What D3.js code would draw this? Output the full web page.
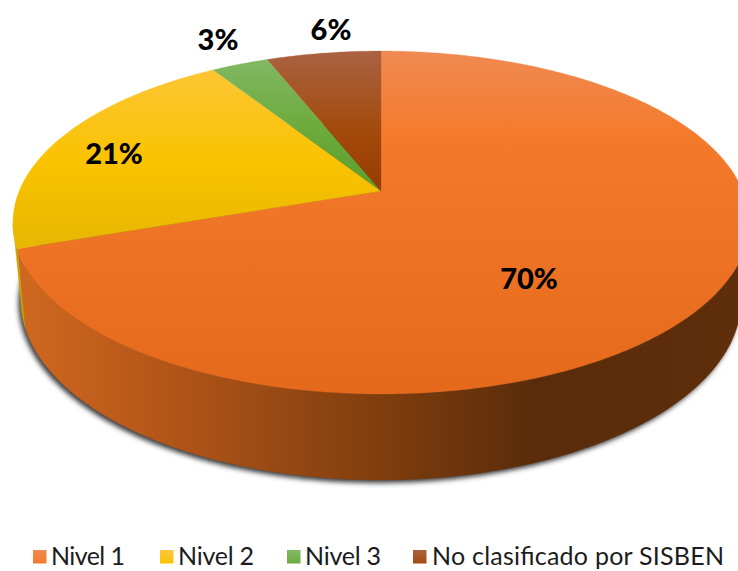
<!DOCTYPE html>
<html><head><meta charset="utf-8">
<script src="https://cdn.jsdelivr.net/npm/d3@7"></script>
<style>html,body{margin:0;padding:0;background:#fff;overflow:hidden}svg{display:block}</style>
</head><body><svg id="c" width="738" height="571"></svg>
<script>
const categories = ["Nivel 1","Nivel 2","Nivel 3","No clasificado por SISBEN"];
const values = [69.7,21.3,3,6];
const valueLabels = ["70%","21%","3%","6%"];
const topColors = [
  ["#f08a52","#f47a2b","#e5691a"],
  ["#fdc63f","#fac300","#e5b500"],
  ["#84b968","#6cab3c","#5c9e2c"],
  ["#aa6242","#a34b0c","#983c00"]
];
const wallStops = [[0,"#d0681f"],[0.17,"#b9591a"],[0.5,"#803e0e"],[0.72,"#5a2c0b"],[1,"#5f2e0b"]];
const labelCentres = [[529,277],[114,152],[218,38],[331,28]];
const legendBoxes = [[33,51,74],[160,178,76],[287,305,76],[413,432,292]];

const svg = d3.select("#c");
const apex = {x:381,y:191}, rimW = 361.8, rimH = 165.7, persp = -0.1837;
const topE = {cx:381,cy:222.5,a:368,b:171.5}, lowE = {cx:381,cy:300,a:360,b:180};
const pie = d3.pie().value(d=>d).sort(null);
const arcs = pie(values);

function rim(t){
  const X=Math.sin(t), Y=-Math.cos(t), d=1+persp*Y;
  return [apex.x+rimW*X/d, apex.y+rimH*Y/d];
}
function lower(p){
  const c=(p[0]-topE.cx)/topE.a, s=(p[1]-topE.cy)/topE.b;
  return [lowE.cx+lowE.a*c, lowE.cy+lowE.b*s];
}
const line = d3.line();
function samples(a0,a1){
  const n=Math.max(2,Math.ceil((a1-a0)*90));
  return d3.range(n+1).map(i=>a0+(a1-a0)*i/n);
}
const defs = svg.append("defs");
topColors.forEach((c,i)=>{
  const g=defs.append("linearGradient").attr("id","g"+i).attr("gradientUnits","userSpaceOnUse")
    .attr("x1",0).attr("x2",0).attr("y1",51).attr("y2",i===0?394:(i===1?255:191));
  const mid=i===0?0.25:0.55;
  [[0,c[0]],[mid,c[1]],[1,c[2]]].forEach(s=>g.append("stop").attr("offset",s[0]).attr("stop-color",s[1]));
  const lg=defs.append("linearGradient").attr("id","lg"+i).attr("x1",0).attr("x2",0).attr("y1",0).attr("y2",1);
  [[0,c[0]],[1,c[1]]].forEach(s=>lg.append("stop").attr("offset",s[0]).attr("stop-color",s[1]));
});
const wg=defs.append("linearGradient").attr("id","wall").attr("gradientUnits","userSpaceOnUse")
  .attr("x1",15).attr("x2",738).attr("y1",0).attr("y2",0);
wallStops.forEach(s=>wg.append("stop").attr("offset",s[0]).attr("stop-color",s[1]));
defs.append("filter").attr("id","blur").attr("x","-5%").attr("y","-5%").attr("width","110%").attr("height","110%")
  .append("feGaussianBlur").attr("stdDeviation",2.6);

// shadow under the disc
svg.append("path")
  .attr("d",line(samples(0,2*Math.PI).map(t=>lower(rim(t))))+"Z")
  .attr("transform","translate(-2.5,3)")
  .attr("fill","#3c3c3c").attr("filter","url(#blur)");

// walls: only the rim that faces the viewer
const wallG=svg.append("g");
arcs.forEach((d,i)=>{
  const pts=samples(d.startAngle,d.endAngle).map(rim).filter(p=>p[1]>=topE.cy);
  if(pts.length<2) return;
  const poly=pts.concat(pts.map(lower).reverse());
  wallG.append("path").attr("d",line(poly)+"Z")
    .attr("fill",i===0?"url(#wall)":"#c9a200")
    .attr("stroke",i===0?"url(#wall)":"#c9a200").attr("stroke-width",0.4);
});

// top face
const topG=svg.append("g");
arcs.forEach((d,i)=>{
  const poly=[[apex.x,apex.y]].concat(samples(d.startAngle,d.endAngle).map(rim));
  topG.append("path").attr("d",line(poly)+"Z").attr("fill","url(#g"+i+")")
    .attr("stroke","url(#g"+i+")").attr("stroke-width",0.3);
});

// value labels
svg.append("g").selectAll("text").data(valueLabels).join("text")
  .attr("x",(d,i)=>labelCentres[i][0]).attr("y",(d,i)=>labelCentres[i][1])
  .attr("text-anchor","middle").attr("dominant-baseline","central")
  .attr("font-family","Lato, 'Open Sans', sans-serif").attr("font-weight",900)
  .attr("font-size",29).attr("fill","#000").text(d=>d);

// legend
const leg=svg.append("g").selectAll("g").data(categories).join("g");
leg.append("rect").attr("x",(d,i)=>legendBoxes[i][0]).attr("y",550)
  .attr("width",13.5).attr("height",13.5).attr("fill",(d,i)=>"url(#lg"+i+")");
leg.append("text").attr("x",(d,i)=>legendBoxes[i][1]).attr("y",565)
  .attr("textLength",(d,i)=>legendBoxes[i][2]).attr("lengthAdjust","spacing")
  .attr("font-family","Lato, 'Open Sans', sans-serif").attr("font-size",25)
  .attr("fill","#1c1c1c").text(d=>d);
</script></body></html>
